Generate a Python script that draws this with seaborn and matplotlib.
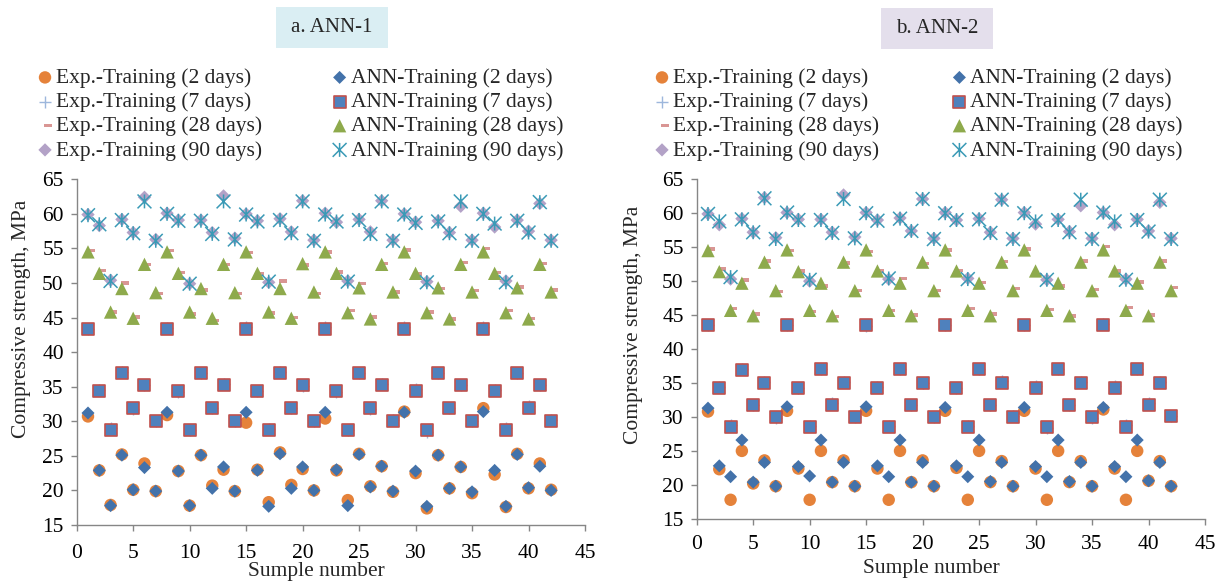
import numpy as np
import pandas as pd
import matplotlib
matplotlib.use("Agg")
import matplotlib.pyplot as plt
from matplotlib.path import Path
from matplotlib.patches import Rectangle
import seaborn as sns

samples = list(range(1, 43))

# ---------------- ANN-1 (left panel) ----------------
exp2_L = [30.7, 22.9, 17.9, 25.2, 20.1, 23.9, 19.9, 30.9, 22.8, 17.8, 25.1, 20.7, 23.0, 19.9,
          29.8, 23.0, 18.3, 25.5, 20.8, 23.1, 20.0, 30.4, 22.9, 18.6, 25.3, 20.6, 23.5, 19.8,
          31.4, 22.5, 17.4, 25.1, 20.3, 23.4, 19.6, 31.9, 22.3, 17.6, 25.3, 20.3, 23.9, 20.1]
exp7_L = [43.4, 34.5, 29.0, 37.1, 31.8, 35.2, 30.0, 43.5, 34.3, 28.8, 37.0, 31.9, 35.4, 30.1,
          43.6, 34.4, 28.9, 37.2, 31.9, 35.1, 30.1, 43.6, 34.3, 28.8, 37.0, 31.8, 35.4, 30.2,
          43.6, 34.6, 28.4, 37.0, 31.9, 35.3, 30.0, 43.7, 34.5, 29.0, 37.0, 32.2, 35.2, 30.2]
exp28_L = [54.7, 51.8, 45.8, 50.0, 45.1, 52.7, 48.5, 54.7, 51.5, 45.5, 49.0, 44.6, 52.7, 48.5,
           54.4, 51.3, 45.7, 50.3, 45.0, 52.6, 48.5, 54.5, 51.6, 46.0, 49.9, 45.1, 52.8, 48.7,
           54.8, 51.3, 45.8, 49.2, 44.8, 53.0, 48.9, 55.0, 51.5, 46.0, 49.4, 44.9, 52.8, 49.0]
exp90_L = [59.9, 58.3, 50.4, 59.2, 57.3, 62.4, 56.3, 60.1, 59.1, 49.9, 59.1, 57.3, 62.6, 56.5,
           60.0, 59.0, 50.1, 59.3, 57.4, 61.9, 56.2, 60.1, 58.8, 50.3, 59.2, 57.4, 61.9, 56.2,
           60.0, 58.8, 50.2, 59.0, 57.3, 61.1, 56.2, 60.1, 58.1, 50.3, 59.1, 57.5, 61.5, 56.2]
ann2_L = [31.2, 22.9, 17.8, 25.1, 20.1, 23.3, 19.9, 31.3, 22.8, 17.8, 25.1, 20.3, 23.4, 19.9,
          31.3, 22.9, 17.7, 25.3, 20.3, 23.4, 20.0, 31.3, 23.0, 17.8, 25.2, 20.5, 23.5, 19.9,
          31.3, 22.8, 17.7, 25.1, 20.3, 23.4, 19.8, 31.4, 22.9, 17.7, 25.2, 20.4, 23.5, 20.0]
ann7_L = [43.3, 34.4, 28.8, 37.0, 31.9, 35.3, 30.1, 43.3, 34.4, 28.8, 37.0, 31.9, 35.3, 30.1,
          43.3, 34.4, 28.8, 37.0, 31.9, 35.3, 30.1, 43.3, 34.4, 28.8, 37.0, 31.9, 35.3, 30.1,
          43.3, 34.4, 28.8, 37.0, 31.9, 35.3, 30.1, 43.3, 34.4, 28.8, 37.0, 31.9, 35.3, 30.1]
ann28_L = [54.5, 51.4, 45.8, 49.2, 44.9, 52.7, 48.6, 54.5, 51.4, 45.8, 49.2, 44.9, 52.7, 48.6,
           54.5, 51.4, 45.8, 49.2, 44.9, 52.8, 48.7, 54.5, 51.4, 45.7, 49.3, 44.8, 52.7, 48.7,
           54.5, 51.4, 45.7, 49.3, 44.8, 52.7, 48.7, 54.5, 51.4, 45.7, 49.3, 44.8, 52.7, 48.7]
ann90_L = [59.8, 58.5, 50.3, 59.1, 57.2, 61.8, 56.1, 60.0, 59.0, 49.9, 59.0, 57.1, 61.8, 56.3,
           59.9, 58.9, 50.2, 59.1, 57.2, 61.8, 56.1, 59.9, 58.9, 50.2, 59.1, 57.1, 61.8, 56.1,
           59.9, 58.7, 50.1, 58.9, 57.2, 61.8, 56.1, 60.0, 58.6, 50.1, 59.0, 57.3, 61.7, 56.1]

# ---------------- ANN-2 (right panel) ----------------
exp2_R = [30.8, 22.3, 17.8, 25.0, 20.2, 23.6, 19.8, 30.9, 22.4, 17.8, 25.0, 20.4, 23.6, 19.8,
          30.9, 22.4, 17.8, 25.0, 20.4, 23.6, 19.8, 30.9, 22.5, 17.8, 25.0, 20.4, 23.5, 19.8,
          30.9, 22.4, 17.8, 25.0, 20.4, 23.5, 19.8, 31.1, 22.4, 17.8, 25.0, 20.6, 23.5, 19.8]
exp7_R = [43.6, 34.4, 28.8, 37.1, 31.7, 35.1, 29.9, 43.5, 34.2, 28.7, 37.0, 32.0, 35.1, 30.0,
          43.4, 34.4, 28.6, 37.1, 31.8, 35.0, 30.0, 43.6, 34.3, 28.7, 37.0, 31.7, 35.3, 30.1,
          43.5, 34.5, 28.4, 37.0, 31.8, 35.2, 29.9, 43.7, 34.5, 28.8, 37.0, 32.1, 35.1, 30.2]
exp28_R = [54.7, 51.8, 46.0, 50.2, 45.2, 53.0, 48.5, 54.5, 51.5, 45.5, 49.3, 44.8, 52.7, 48.6,
           54.4, 51.5, 45.7, 50.4, 45.0, 52.6, 48.6, 54.6, 51.6, 46.0, 49.8, 45.2, 52.9, 48.9,
           54.7, 51.0, 45.8, 49.3, 44.9, 53.0, 48.8, 55.1, 51.5, 46.1, 49.9, 45.0, 53.0, 49.1]
exp90_R = [59.9, 58.3, 50.3, 59.2, 57.2, 62.3, 56.4, 60.1, 59.1, 50.0, 59.1, 57.2, 62.7, 56.5,
           60.1, 59.0, 50.3, 59.3, 57.4, 62.1, 56.3, 60.1, 59.0, 50.4, 59.2, 57.2, 62.0, 56.3,
           60.1, 58.4, 50.2, 59.1, 57.3, 61.1, 56.3, 60.1, 58.3, 50.3, 59.1, 57.4, 61.6, 56.3]
ann2_R = [31.3, 22.8, 21.2, 26.6, 20.4, 23.3, 19.8, 31.5, 22.7, 21.3, 26.6, 20.4, 23.3, 19.8,
          31.5, 22.8, 21.2, 26.6, 20.4, 23.3, 19.8, 31.4, 22.8, 21.2, 26.6, 20.5, 23.3, 19.8,
          31.4, 22.7, 21.2, 26.6, 20.5, 23.3, 19.8, 31.4, 22.7, 21.2, 26.6, 20.6, 23.3, 19.8]
ann7_R = [43.5, 34.3, 28.5, 36.9, 31.8, 35.0, 30.0, 43.5, 34.3, 28.5, 37.0, 31.8, 35.0, 30.0,
          43.5, 34.3, 28.5, 37.0, 31.8, 35.0, 30.0, 43.5, 34.3, 28.5, 37.0, 31.8, 35.0, 30.0,
          43.5, 34.3, 28.5, 37.0, 31.8, 35.0, 30.0, 43.5, 34.3, 28.5, 37.0, 31.8, 35.0, 30.1]
ann28_R = [54.5, 51.4, 45.7, 49.7, 44.9, 52.8, 48.6, 54.6, 51.4, 45.7, 49.7, 44.9, 52.8, 48.6,
           54.6, 51.5, 45.7, 49.7, 44.9, 52.8, 48.6, 54.6, 51.5, 45.7, 49.7, 44.9, 52.8, 48.6,
           54.6, 51.5, 45.7, 49.7, 44.9, 52.8, 48.6, 54.6, 51.5, 45.7, 49.7, 44.9, 52.8, 48.6]
ann90_R = [59.9, 58.8, 50.6, 59.1, 57.2, 62.2, 56.2, 60.1, 59.0, 50.2, 59.0, 57.1, 62.1, 56.3,
           60.0, 58.9, 50.4, 59.2, 57.4, 62.1, 56.2, 60.0, 59.0, 50.3, 59.1, 57.1, 62.0, 56.2,
           60.0, 58.8, 50.2, 59.0, 57.2, 62.0, 56.2, 60.1, 58.8, 50.2, 59.0, 57.3, 62.0, 56.2]

series_labels = ["Exp.-Training (2 days)", "Exp.-Training (7 days)",
                 "Exp.-Training (28 days)", "Exp.-Training (90 days)",
                 "ANN-Training (2 days)", "ANN-Training (7 days)",
                 "ANN-Training (28 days)", "ANN-Training (90 days)"]
panel_titles = ["a. ANN-1", "b. ANN-2"]
x_label = "Sumple number"
y_label = "Compressive strength, MPa"
x_ticks = [0, 5, 10, 15, 20, 25, 30, 35, 40, 45]
y_ticks = [15, 20, 25, 30, 35, 40, 45, 50, 55, 60, 65]

# ---------------- styling ----------------
sns.set_theme(style="white")
plt.rcParams['font.family'] = ['Liberation Serif', 'DejaVu Serif']
FS = 15.5

asterisk = Path([(-1, -1), (1, 1), (-1, 1), (1, -1), (0, -1), (0, 1)],
                [Path.MOVETO, Path.LINETO, Path.MOVETO, Path.LINETO, Path.MOVETO, Path.LINETO])
dash = Path([(-0.1, -0.26), (1.0, -0.26), (1.0, 0.26), (-0.1, 0.26), (-0.1, -0.26)],
            [Path.MOVETO, Path.LINETO, Path.LINETO, Path.LINETO, Path.CLOSEPOLY])

styles = [
    dict(marker="o", s=80, color="#E5823A", edgecolor="none", linewidth=0),
    dict(marker="+", s=80, color="#9DB7DC", linewidth=1.0),
    dict(marker=dash, s=95, color="#D99694", edgecolor="none", linewidth=0),
    dict(marker="D", s=46, color="#B3A2C7", edgecolor="none", linewidth=0),
    dict(marker="D", s=44, color="#4372AA", edgecolor="none", linewidth=0),
    dict(marker="s", s=80, color="#4F81BD", edgecolor="#C0504D", linewidth=1.2),
    dict(marker="^", s=92, color="#8EAA4C", edgecolor="none", linewidth=0),
    dict(marker=asterisk, s=100, color="#3A9AB6", facecolor="none", edgecolor="#3A9AB6", linewidth=1.1),
]

W, H = 1221, 583
fig = plt.figure(figsize=(W / 100, H / 100), dpi=100)
axL = fig.add_axes([76.7 / W, 1 - 525.0 / H, (585 - 76.7) / W, (525.0 - 179.3) / H])
axR = fig.add_axes([696.7 / W, 1 - 518.8 / H, (1205 - 696.7) / W, (518.8 - 179.3) / H])

panels = [
    (axL, [exp2_L, exp7_L, exp28_L, exp90_L, ann2_L, ann7_L, ann28_L, ann90_L]),
    (axR, [exp2_R, exp7_R, exp28_R, exp90_R, ann2_R, ann7_R, ann28_R, ann90_R]),
]

grey = "#868686"
for ax, data in panels:
    for vals, lab, st in zip(data, series_labels, styles):
        df = pd.DataFrame({"Sample": samples, "Strength": vals})
        sns.scatterplot(data=df, x="Sample", y="Strength", ax=ax, label=lab, legend=False, **st)
    ax.set_xlim(0, 45)
    ax.set_ylim(15, 65)
    ax.set_xticks(x_ticks)
    ax.set_yticks(y_ticks)
    for side in ["top", "right"]:
        ax.spines[side].set_visible(False)
    for side in ["left", "bottom"]:
        ax.spines[side].set_color(grey)
        ax.spines[side].set_linewidth(1.0)
    ax.tick_params(axis="both", which="major", direction="out", length=4.3, width=1.0,
                   color=grey, labelsize=FS, labelcolor="black", left=True, bottom=True)
    ax.set_xlabel(x_label, fontsize=FS)
    ax.set_ylabel(y_label, fontsize=FS)

axL.tick_params(axis="x", pad=9.5)
axR.tick_params(axis="x", pad=7.5)
axL.tick_params(axis="y", pad=5)
axR.tick_params(axis="y", pad=5)

axL.xaxis.set_label_coords(0.472, -0.108)
axR.xaxis.set_label_coords(0.462, -0.118)
axL.yaxis.set_label_coords(-0.090, 0.596)
axR.yaxis.set_label_coords(-0.106, 0.571)

# legends
for ax, x0, cs in [(axL, 36.4, 3.2), (axR, 653.4, 3.33)]:
    h, l = ax.get_legend_handles_labels()
    ax.legend(h, l, ncol=2, loc="upper left", bbox_to_anchor=(x0 / W, 1 - 68 / H),
              bbox_transform=fig.transFigure, frameon=False, fontsize=FS,
              handlelength=0.8, handletextpad=0.11, columnspacing=cs,
              labelspacing=0.19, borderpad=0, borderaxespad=0, scatterpoints=1)

# title boxes
for (x0, y0, x1, y1, fc), txt in zip([(276, 7, 388, 48, "#DAEEF3"), (881, 8, 993, 49, "#E4DFEC")],
                                     panel_titles):
    fig.patches.append(Rectangle((x0 / W, 1 - y1 / H), (x1 - x0) / W, (y1 - y0) / H,
                                 transform=fig.transFigure, facecolor=fc, edgecolor="none"))
    fig.text((x0 + x1) / 2 / W, 1 - (y0 + y1) / 2 / H, txt, ha="center", va="center", fontsize=15)

fig.savefig("out.png", dpi=100)
